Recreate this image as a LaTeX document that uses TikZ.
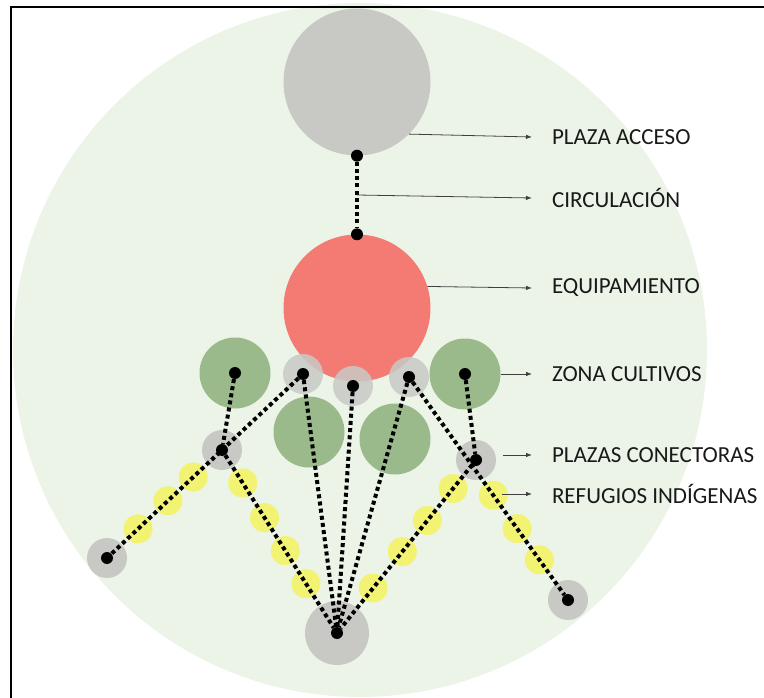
\documentclass[tikz,border=0pt]{standalone}
\usepackage{fontspec}
\setmainfont{Carlito}
\usetikzlibrary{calc,arrows.meta}
\definecolor{fondo}{RGB}{236,244,232}
\definecolor{gris}{RGB}{200,201,197}
\definecolor{rojo}{RGB}{244,123,116}
\definecolor{verde}{RGB}{154,186,140}
\definecolor{amarillo}{RGB}{243,243,115}
\tikzset{
  zona/.style={circle,inner sep=0pt,minimum size=#1},
  punto/.style={circle,fill=black,inner sep=0pt,minimum size=12pt},
  refugio/.style={circle,fill=amarillo,inner sep=0pt,minimum size=29pt},
  camino/.style={line width=4pt,dash pattern=on 4pt off 3.2pt},
  flecha/.style={draw=black!75,line width=0.8pt,-{Latex[length=6pt,width=4.5pt]}},
  etiqueta/.style={anchor=west,inner sep=0pt,outer sep=20pt,text=black!90,
    font=\fontsize{23}{26}\selectfont}
}
\begin{document}
\begin{tikzpicture}[x=1pt,y=-1pt]
\useasboundingbox (0,0) rectangle (764,698);
\fill[fondo] (360,350) circle (347);
\draw[line width=2pt] (11,698) -- (11,7) -- (764,7);
% plaza de acceso y equipamiento
\node[zona=147pt,fill=gris] (acceso) at (357,82) {};
\node[zona=147pt,fill=rojo] (equip) at (357,308) {};
% zona cultivos
\node[zona=71pt,fill=verde] (cultA) at (235,373) {};
\node[zona=71pt,fill=verde] (cultB) at (465,374) {};
\node[zona=71pt,fill=verde] (cultC) at (309,432) {};
\node[zona=71pt,fill=verde] (cultD) at (395,439) {};
% plazas
\node[zona=40pt,fill=gris,opacity=.85] (plzA) at (303,374) {};
\node[zona=40pt,fill=gris,opacity=.85] (plzB) at (353,386) {};
\node[zona=40pt,fill=gris,opacity=.85] (plzC) at (409,377) {};
\node[zona=40pt,fill=gris] (conA) at (222,450) {};
\node[zona=40pt,fill=gris] (conB) at (476,460) {};
\node[zona=40pt,fill=gris] (extA) at (107,558) {};
\node[zona=64pt,fill=gris] (centro) at (337,633) {};
\node[zona=40pt,fill=gris] (extC) at (568,600) {};
% refugios
\foreach \f [count=\i] in {0.25,0.47,0.73}
  \node[refugio] (refA\i) at ($(conA)!\f!(extA)$) {};
\foreach \f [count=\i] in {0.18,0.37,0.55,0.73}
  \node[refugio] (refB\i) at ($(conA)!\f!(centro)$) {};
\foreach \f [count=\i] in {0.165,0.35,0.53,0.74}
  \node[refugio] (refC\i) at ($(conB)!\f!(centro)$) {};
\foreach \f [count=\i] in {0.53,0.68,0.82}
  \node[refugio] (refD\i) at ($(plzC)!\f!(extC)$) {};
% puntos
\node[punto] (pA) at (acceso.south) {};
\node[punto] (pB) at (equip.north) {};
\foreach \n in {cultA,cultB,plzA,plzB,plzC,conA,conB,extA,centro,extC}
  \node[punto] (d\n) at (\n) {};
% caminos
\draw[camino] (pA) -- (pB);
\draw[camino] (dcultA) -- (dconA);
\draw[camino] (dplzA) -- (dextA);
\draw[camino] (dconA) -- (dcentro);
\draw[camino] (dplzA) -- (dcentro);
\draw[camino] (dplzB) -- (dcentro);
\draw[camino] (dplzC) -- (dcentro);
\draw[camino] (dplzC) -- (dextC);
\draw[camino] (dcultB) -- (dconB);
\draw[camino] (dconB) -- (dcentro);
% etiquetas
\node[etiqueta] (lAcceso) at (532,137) {PLAZA ACCESO};
\node[etiqueta] (lCirc) at (532,198) {CIRCULACIÓN};
\node[etiqueta] (lEquip) at (532,288) {EQUIPAMIENTO};
\node[etiqueta] (lCult) at (532,374) {ZONA CULTIVOS};
\node[etiqueta] (lCon) at (532,455) {PLAZAS CONECTORAS};
\node[etiqueta] (lRef) at (532,494) {REFUGIOS INDÍGENAS};
\coordinate (sCirc) at ($(pA)!0.5!(pB)$);
\coordinate (sCon) at (503,455);
\coordinate (sRef) at (502,494);
\draw[flecha] (acceso.-45) -- (lAcceso.west);
\draw[flecha] (sCirc) -- (lCirc.west);
\draw[flecha] (equip.17) -- (lEquip.west);
\draw[flecha] (cultB.east) -- (lCult.west);
\draw[flecha] (sCon) -- (lCon.west);
\draw[flecha] (sRef) -- (lRef.west);
\end{tikzpicture}
\end{document}
